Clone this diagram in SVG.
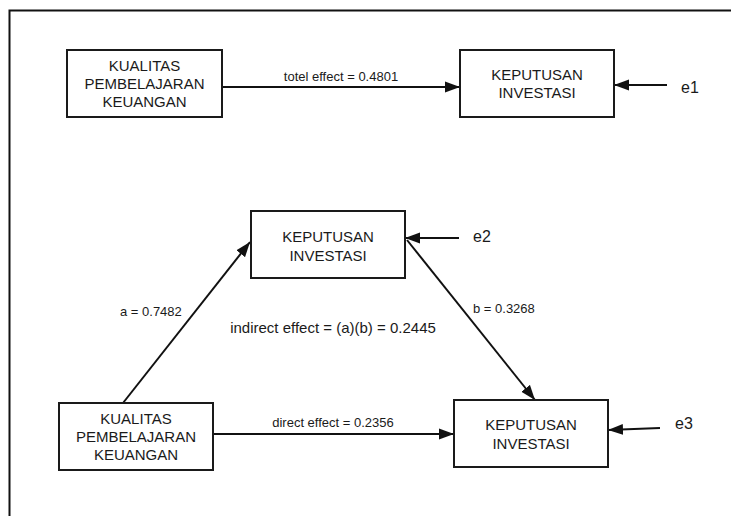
<svg xmlns="http://www.w3.org/2000/svg" width="731" height="516" viewBox="0 0 731 516">
<defs>
<marker id="ah" markerUnits="userSpaceOnUse" markerWidth="16" markerHeight="12" refX="15" refY="6" orient="auto">
<path d="M0,0.5 L15,6 L0,11.5 Z" fill="#111"/>
</marker>
<style>
.box{fill:#fff;stroke:#1a1a1a;stroke-width:2}
.bt{font-family:"Liberation Sans",Arial,sans-serif;font-size:15px;fill:#1a1a1a;text-anchor:middle}
.lbl{font-family:"Liberation Sans",Arial,sans-serif;font-size:13px;fill:#1a1a1a}
.e{font-family:"Liberation Sans",Arial,sans-serif;font-size:16px;fill:#1a1a1a}
.c{stroke:#111;stroke-width:2;fill:none;marker-end:url(#ah)}
</style>
</defs>
<rect x="0" y="0" width="731" height="516" fill="#fff"/>
<rect x="9.5" y="10.5" width="730" height="520" fill="none" stroke="#111" stroke-width="2"/>

<g id="connectors">
<line class="c" x1="222" y1="87" x2="460" y2="87"/>
<line class="c" x1="667" y1="85" x2="614" y2="85"/>
<line class="c" x1="459" y1="238" x2="405" y2="238"/>
<line class="c" x1="123" y1="403" x2="250" y2="242"/>
<line class="c" x1="407" y1="240" x2="535" y2="400"/>
<line class="c" x1="213" y1="434" x2="454" y2="434"/>
<line class="c" x1="660" y1="428" x2="608" y2="430"/>
<text class="lbl" x="341" y="81" text-anchor="middle">totel effect = 0.4801</text>
<text class="lbl" x="120" y="316">a = 0.7482</text>
<text class="lbl" x="473" y="313">b = 0.3268</text>
<text class="lbl" x="333" y="333" text-anchor="middle" style="font-size:15px">indirect effect = (a)(b) = 0.2445</text>
<text class="lbl" x="333" y="427" text-anchor="middle">direct effect = 0.2356</text>
</g>

<g id="kpk1">
<rect class="box" x="67" y="50" width="155" height="67"/>
<text class="bt" x="144.5" y="70.5">KUALITAS</text>
<text class="bt" x="144.5" y="88.5">PEMBELAJARAN</text>
<text class="bt" x="144.5" y="106.5">KEUANGAN</text>
</g>
<g id="ki1">
<rect class="box" x="460" y="50" width="154" height="67"/>
<text class="bt" x="537" y="80">KEPUTUSAN</text>
<text class="bt" x="537" y="98">INVESTASI</text>
</g>
<g id="e1"><text class="e" x="681" y="93">e1</text></g>

<g id="ki2">
<rect class="box" x="251" y="211" width="154" height="67"/>
<text class="bt" x="328" y="242">KEPUTUSAN</text>
<text class="bt" x="328" y="261">INVESTASI</text>
</g>
<g id="e2"><text class="e" x="473" y="242">e2</text></g>

<g id="kpk2">
<rect class="box" x="59" y="403" width="154" height="67"/>
<text class="bt" x="136" y="424">KUALITAS</text>
<text class="bt" x="136" y="442">PEMBELAJARAN</text>
<text class="bt" x="136" y="460">KEUANGAN</text>
</g>
<g id="ki3">
<rect class="box" x="454" y="400" width="154" height="67"/>
<text class="bt" x="531" y="430">KEPUTUSAN</text>
<text class="bt" x="531" y="448.5">INVESTASI</text>
</g>
<g id="e3"><text class="e" x="675" y="429">e3</text></g>
</svg>
